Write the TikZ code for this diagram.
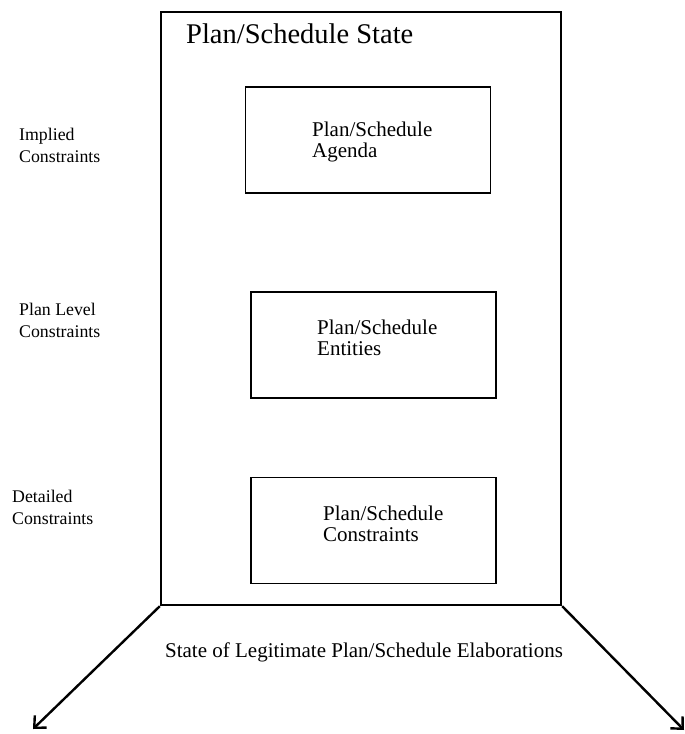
\documentclass[tikz,border=0pt]{standalone}
\usepackage{fontspec}
\setmainfont{Liberation Serif}
\usetikzlibrary{arrows.meta,positioning}

\begin{document}
\begin{tikzpicture}[x=1pt,y=-1pt,%%
  outerStyle/.style={draw,line width=2.4pt,inner sep=0pt,minimum width=400pt,minimum height=593pt},%%
  boxStyle/.style={draw,line width=1.5pt,inner sep=0pt,minimum width=245pt,minimum height=106pt},%%
  titleStyle/.style={font=\fontsize{28.5}{34}\selectfont,anchor=base west,inner sep=0pt},%%
  textStyle/.style={font=\fontsize{21}{21}\selectfont,align=left,anchor=base west,inner sep=0pt},%%
  sideStyle/.style={font=\fontsize{17.8}{22}\selectfont,align=left,anchor=base west,inner sep=0pt},%%
  arrowStyle/.style={-{Straight Barb[length=9pt,width=17pt]},line width=2.4pt}%%
]
%%
\useasboundingbox (0,0) rectangle (685,734);
%%
%% The state frame and the three boxes.
\node[outerStyle] (stateBox) at (361,308.5) {};
\node[boxStyle] (agendaBox) at (368,140) {};
\node[boxStyle] (entityBox) at (373.5,345) {};
\node[boxStyle] (constraintBox) at (373.5,530.5) {};
%%
%% Texts in the frame (placed by the baseline of their last line).
\node[titleStyle] (stateTitle) at (186,43) {Plan/Schedule State};
\node[textStyle] (agendaText) at (312,157) {Plan/Schedule\\Agenda};
\node[textStyle] (entityText) at (317,355) {Plan/Schedule\\Entities};
\node[textStyle] (constraintText) at (323,541) {Plan/Schedule\\Constraints};
%%
%% Labels on the left.
\node[sideStyle] (impliedLabel) at (19,162) {Implied\\Constraints};
\node[sideStyle] (levelLabel) at (19,337) {Plan Level\\Constraints};
\node[sideStyle] (detailLabel) at (12,524) {Detailed\\Constraints};
%%
%% The elaborations below.
\coordinate (leftTip) at (33,729);
\coordinate (rightTip) at (684,730);
\draw[arrowStyle] (stateBox.south west) -- (leftTip);
\draw[arrowStyle] (stateBox.south east) -- (rightTip);
\node[textStyle,anchor=base] (elabLabel) at (364,657) {State of Legitimate Plan/Schedule Elaborations};
\end{tikzpicture}
\end{document}
